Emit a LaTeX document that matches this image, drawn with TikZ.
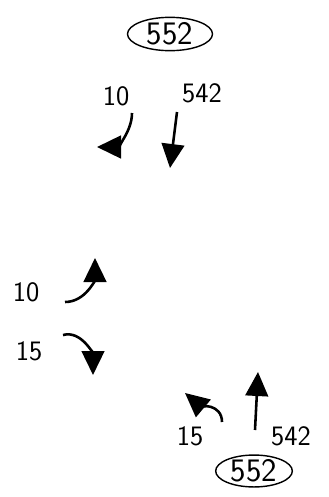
\documentclass[tikz,border=0pt]{standalone}
\usepackage{tikz}
\usetikzlibrary{arrows.meta, shapes.geometric}
\tikzset{total/.style={draw, ellipse, line width=1.2pt, inner sep=0pt, font=\sffamily\fontsize{28}{30}\selectfont}}

\begin{document}
\begin{tikzpicture}[x=0.03cm, y=-0.03cm, >={Triangle[length=0.72cm,width=0.68cm]}, line width=2.2pt, every node/.style={font=\sffamily\fontsize{24}{26}\selectfont}]
\useasboundingbox (0,0) rectangle (328,497);
\node[total, minimum width=2.55cm, minimum height=1cm] (q552a) at (170,34) {552};
\node[total, minimum width=2.3cm, minimum height=0.88cm] (q552b) at (254,471) {552};
\node (l10a) at (116,96) {10};
\node (l542a) at (202,93) {542};
\node (l10b) at (26,292) {10};
\node (l15a) at (29,351) {15};
\node (l15b) at (190,436) {15};
\node (l542b) at (291,436) {542};
\coordinate (a1s) at (132,113); \coordinate (a1e) at (97,147);
\coordinate (a2s) at (177,112); \coordinate (a2e) at (170,168);
\coordinate (a3s) at (65,302); \coordinate (a3e) at (95,258);
\coordinate (a4s) at (63,335); \coordinate (a4e) at (93,375);
\coordinate (a5s) at (222,422); \coordinate (a5e) at (185,393);
\coordinate (a6s) at (255,430); \coordinate (a6e) at (258,372);
\draw[->] (a1s) to[out=-90, in=0] (a1e);
\draw[->] (a2s) -- (a2e);
\draw[->] (a3s) to[out=0, in=-90] (a3e);
\draw[->] (a4s) to[out=15, in=90] (a4e);
\draw[->] (a5s) to[out=90, in=-40] (a5e);
\draw[->] (a6s) -- (a6e);
\end{tikzpicture}
\end{document}
